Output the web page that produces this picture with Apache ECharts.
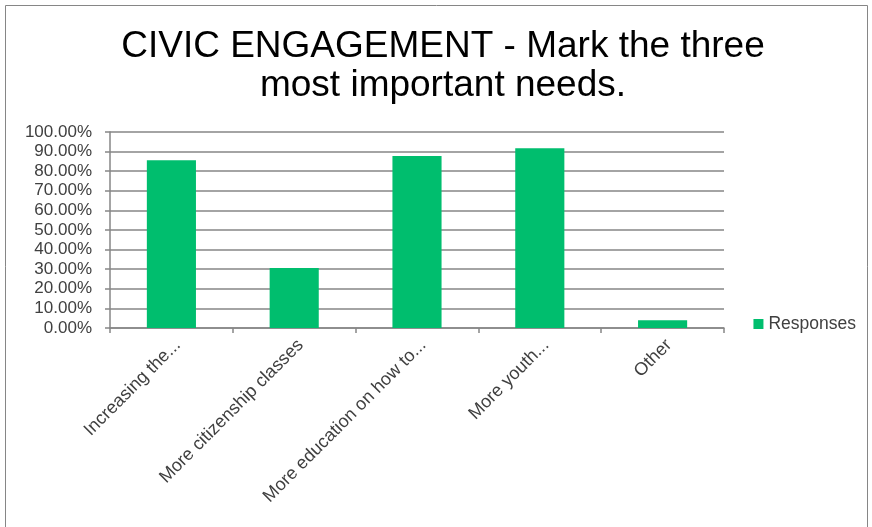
<!DOCTYPE html>
<html><head><meta charset="utf-8">
<script src="https://cdn.jsdelivr.net/npm/echarts@6/dist/echarts.min.js"></script>
<style>html,body{margin:0;padding:0;background:#fff}#c{width:872px;height:527px}</style>
</head><body><div id="c"></div>
<script>
const categories = ["Increasing the...", "More citizenship classes", "More education on how to...", "More youth...", "Other"];
const responses = [0.856, 0.306, 0.878, 0.917, 0.039];
const seriesName = "Responses";
const titleText = "CIVIC ENGAGEMENT - Mark the three\nmost important needs.";

const chart = echarts.init(document.getElementById('c'), null, {renderer: 'canvas'});
chart.setOption({
  animation: false,
  backgroundColor: '#fff',
  graphic: [{type: 'rect', shape: {x: 5.5, y: 5.5, width: 862, height: 530}, style: {fill: 'none', stroke: '#868686', lineWidth: 1}}],
  title: {
    text: titleText, left: 438, textAlign: 'center', top: 22,
    textStyle: {fontFamily: 'Liberation Sans', fontSize: 37, fontWeight: 'normal', color: '#000', lineHeight: 39}
  },
  legend: {
    data: [seriesName], right: 11, top: 310, orient: 'vertical',
    icon: 'rect', itemWidth: 10, itemHeight: 10, itemGap: 6,
    textStyle: {fontFamily: 'Liberation Sans', fontSize: 17.5, color: '#404040'}
  },
  grid: {left: 110, right: 148, top: 132, bottom: 199, containLabel: false},
  xAxis: {
    type: 'category', data: categories,
    axisLine: {lineStyle: {color: '#868686', width: 1.5}},
    axisTick: {show: true, length: 5, lineStyle: {color: '#868686', width: 1.5}},
    axisLabel: {rotate: 45, interval: 0, margin: 8, verticalAlign: 'top', fontFamily: 'Liberation Sans', fontSize: 18, color: '#404040'}
  },
  yAxis: {
    type: 'value', min: 0, max: 1, interval: 0.1,
    axisLine: {show: true, lineStyle: {color: '#868686', width: 1.5}},
    axisTick: {show: true, length: 5, lineStyle: {color: '#868686', width: 1.5}},
    splitLine: {lineStyle: {color: '#868686', width: 1.5}},
    axisLabel: {margin: 18, fontFamily: 'Liberation Sans', fontSize: 17, color: '#404040',
      formatter: v => (v * 100).toFixed(2) + '%'}
  },
  series: [{
    name: seriesName, type: 'bar', data: responses, barWidth: '40%',
    itemStyle: {color: '#00BE6E'}
  }]
});
</script>
</body></html>
